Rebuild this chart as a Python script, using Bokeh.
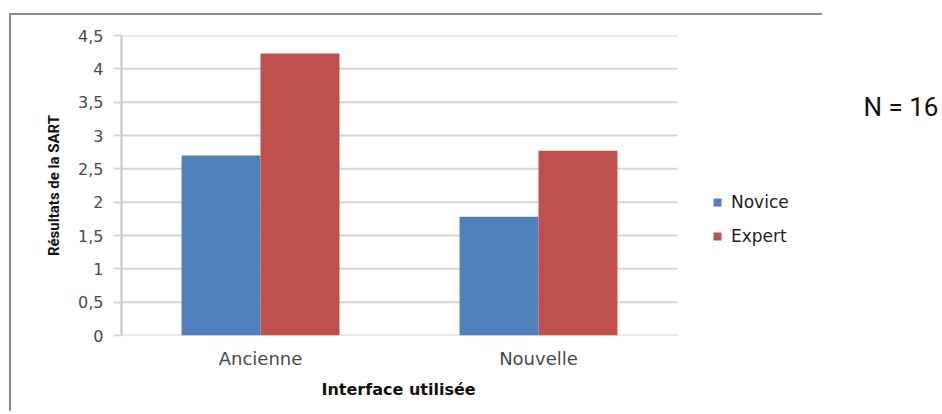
from bokeh.plotting import figure
from bokeh.models import (Range1d, FixedTicker, Legend, LegendItem,
                          Label, ColumnDataSource, Title)
from bokeh.embed import file_html
from bokeh.resources import INLINE

categories = ["Ancienne", "Nouvelle"]
series_names = ["Novice", "Expert"]
novice = [2.70, 1.78]
expert = [4.23, 2.77]
y_ticks = [0, 0.5, 1, 1.5, 2, 2.5, 3, 3.5, 4, 4.5]
y_tick_labels = ["0", "0,5", "1", "1,5", "2", "2,5", "3", "3,5", "4", "4,5"]
colors = ["#4F81BD", "#C0504D"]
x_title = "Interface utilisée"
y_title = "Résultats de la SART"
note = "N = 16"

# layout (pixels)
W, H = 932, 398
left_b, top_b, bottom_b = 112, 22, 76
unit_px = 278.0          # width of one category slot
frame_w = W - left_b
n = len(categories)
bw = 0.284               # bar width in category units

xc = [i + 0.5 for i in range(n)]
src = ColumnDataSource(dict(
    xn=[c - bw / 2 for c in xc], xe=[c + bw / 2 for c in xc],
    Novice=novice, Expert=expert))

p = figure(x_range=Range1d(0, frame_w / unit_px),
           y_range=Range1d(y_ticks[0], y_ticks[-1]),
           width=W, height=H,
           output_backend="svg", toolbar_location=None,
           min_border_left=left_b, min_border_right=0,
           min_border_top=top_b, min_border_bottom=bottom_b)
p.margin = (13, 0, 0, 9)
line_c = "#8a8a8a"
p.styles = {
    "background": (f"linear-gradient({line_c},{line_c}) 0px 0px / 813px 2px no-repeat, "
                   f"linear-gradient({line_c},{line_c}) 0px 0px / 2px 100% no-repeat, white")
}
p.outline_line_color = None
p.background_fill_color = "white"
p.border_fill_alpha = 0

grid_col = "#d6d6d6"
p.xgrid.grid_line_color = None
p.ygrid.grid_line_color = None
p.segment(x0=[0] * len(y_ticks), x1=[n] * len(y_ticks), y0=y_ticks, y1=y_ticks,
          line_color=grid_col, line_width=2)

r1 = p.vbar(x="xn", top="Novice", width=bw, source=src,
            fill_color=colors[0], line_color=None)
r2 = p.vbar(x="xe", top="Expert", width=bw, source=src,
            fill_color=colors[1], line_color=None)

ya = p.yaxis[0]
ya.ticker = FixedTicker(ticks=y_ticks)
ya.major_label_overrides = {t: l for t, l in zip(y_ticks, y_tick_labels)}
ya.axis_line_color = "#c4c4c4"
ya.axis_line_width = 2
ya.major_tick_line_color = grid_col
ya.major_tick_line_width = 2
ya.major_tick_out = 8
ya.major_tick_in = 0
ya.minor_tick_line_color = None
ya.major_label_standoff = 10
ya.major_label_text_font = "DejaVu Sans"
ya.major_label_text_font_size = "16px"
ya.major_label_text_color = "#4a4a4a"
ya.axis_label = y_title
ya.axis_label_text_font = "Roboto"
ya.axis_label_text_font_style = "bold"
ya.axis_label_text_font_size = "15px"
ya.axis_label_text_color = "#111111"
ya.axis_label_standoff = 12

xa = p.xaxis[0]
xa.ticker = FixedTicker(ticks=xc)
xa.major_label_overrides = {c: lab for c, lab in zip(xc, categories)}
xa.axis_line_color = None
xa.major_tick_line_color = None
xa.major_tick_out = 0
xa.major_tick_in = 0
xa.minor_tick_line_color = None
xa.major_label_standoff = 12
xa.major_label_text_font = "DejaVu Sans"
xa.major_label_text_font_size = "18px"
xa.major_label_text_color = "#4a4a4a"

xt = Title(text=x_title, align="left", offset=200, vertical_align="top",
           standoff=16, text_font="DejaVu Sans", text_font_style="bold",
           text_font_size="16px", text_color="#111111")
p.add_layout(xt, "below")

legend = Legend(items=[LegendItem(label=series_names[0], renderers=[r1]),
                       LegendItem(label=series_names[1], renderers=[r2])],
                location=(591, 89))
legend.glyph_width = 10
legend.glyph_height = 10
legend.label_height = 10
legend.label_standoff = 9
legend.spacing = 14
legend.padding = 0
legend.margin = 0
legend.border_line_color = None
legend.background_fill_alpha = 0
legend.label_text_font = "DejaVu Sans"
legend.label_text_font_size = "17px"
legend.label_text_color = "#222222"
p.add_layout(legend, "center")

lab = Label(x=742, y=229, x_units="screen", y_units="screen", text=note,
            text_font="Roboto", text_font_size="26px", text_color="#111111",
            text_baseline="alphabetic")
p.add_layout(lab)

open("out.html", "w").write(file_html(p, INLINE))
